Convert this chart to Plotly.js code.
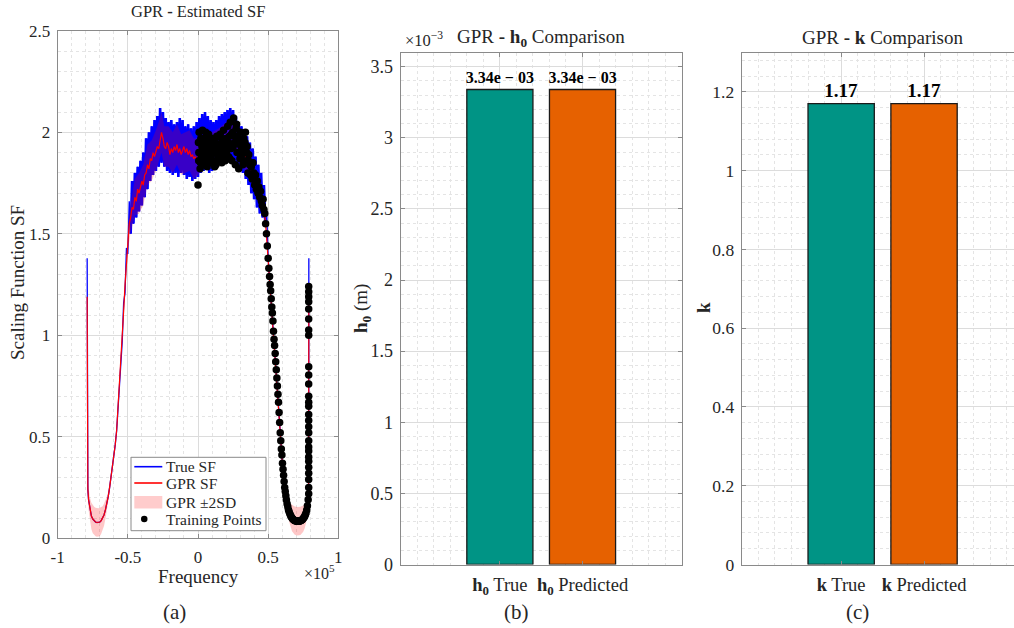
<!DOCTYPE html>
<html><head><meta charset="utf-8">
<script src="https://cdn.plot.ly/plotly-3.0.1.min.js"></script>
<style>html,body{margin:0;padding:0;overflow:hidden;background:#fff}#chart{width:1025px;height:628px}</style>
</head><body><div id="chart"></div>
<script>
// ---------- Panel (a) data : frequency in units of 1e3 Hz ----------
const trueFreq = [-79,-78.95,-78.9,-78.8,-78.5,-78,-77,-76,-75,-74,-73,-72,-71,-70,-69,-68,-67,-66,-65,-64,-63,-62,-61,-60,-59,-58,-57,-56,
-55,-54,-53,-52,-51,-50,-49,-48,-47,-46,-45,-44,-43,-42,-41,-40,-39,-38,-37,-36,-35,-34,-33,-32,-31,-30,-29,-28,-27,-26,-25,-24,-23,-22,-21,-20,-19,-18,-17,-16,-15,-14,-13,-12,-11,-10,-9,-8,-7,-6,-5,-4,-3,-2,-1,0,1,2,3,4,5,6,7,8,9,10,11,12,13,14,15,16,17,18,19,20,21,22,23,24,25,26,27,28,29,30,31,32,33,34,35,36,37,38,39,40,41,42,43,44,45,46,47,48,49,50,
51,52,53,54,55,56,57,58,59,60,61,62,63,64,65,66,67,68,69,70,71,72,73,74,75,76,77,77.5,78,78.5,78.8,78.9,78.95,79];
const trueSF = [1.38,0.80,0.45,0.32,0.24,0.19,0.14,0.11,0.095,0.085,0.08,0.078,0.078,0.08,0.087,0.098,0.115,0.14,0.17,0.205,0.25,0.30,0.35,0.40,0.46,0.53,0.64,0.77,
0.90,0.97,1.16,1.21,1.43,1.40,1.66,1.50,1.76,1.55,
1.80,1.58,1.83,1.61,1.86,1.64,1.90,1.68,1.97,1.72,
2.00,1.76,2.03,1.79,2.06,1.81,2.08,1.83,2.12,1.85,
2.10,1.83,2.07,1.81,2.05,1.80,2.06,1.79,2.04,1.80,
2.05,1.78,2.07,1.80,2.06,1.79,2.03,1.77,2.04,1.78,
2.02,1.76,2.03,1.77,2.05,1.78,2.07,1.80,2.09,1.81,
2.10,1.82,2.08,1.80,2.06,1.81,2.05,1.82,2.06,1.83,
2.08,1.84,2.09,1.86,2.10,1.87,2.11,1.88,2.12,1.87,
2.11,1.86,2.08,1.84,2.05,1.82,2.03,1.80,2.00,1.77,
1.98,1.74,1.95,1.70,1.92,1.67,1.88,1.63,1.84,1.60,
1.80,1.58,1.74,1.55,1.60,1.38,
1.28,1.19,1.10,1.00,0.90,0.79,0.69,0.58,0.48,0.38,0.31,0.24,0.19,0.155,0.13,0.112,0.1,0.092,0.087,0.085,0.084,0.084,0.086,0.09,0.097,0.108,0.125,0.14,0.16,0.19,0.22,0.5,0.9,1.38];

const gprFreq = [-79,-78.95,-78.9,-78.8,-78.5,-78,-77,-76,-75,-74,-73,-72,-71,-70,-69,-68,-67,-66,-65,-64,-63,-62,-61,-60,-59,-58,-57,-56,
-55,-54,-53,-52,-51,-50,-49,-48,-47,-46,-45,-44,-43,-42,-41,-40,-39,-38,-37,-36,-35,-34,-33,-32,-31,-30,-29,-28,-27,-26,-25,-24,-23,-22,-21,-20,-19,-18,-17,-16,-15,-14,-13,-12,-11,-10,-9,-8,-7,-6,-5,-4,-3,-2,-1,0,
2,4,6,8,10,12,14,16,18,20,22,24,26,28,30,32,34,36,38,40,42,44,46,48,50,
51,52,53,54,55,56,57,58,59,60,61,62,63,64,65,66,67,68,69,70,71,72,73,74,75,76,77,77.5,78,78.5,78.8,78.9,78.95,79];
const gprSF = [1.19,0.70,0.45,0.32,0.24,0.19,0.14,0.11,0.095,0.085,0.08,0.078,0.078,0.08,0.087,0.098,0.115,0.14,0.17,0.205,0.25,0.30,0.35,0.40,0.46,0.53,0.64,0.77,
0.88,1.00,1.12,1.25,1.37,1.46,1.55,1.58,1.63,1.62,
1.68,1.66,1.72,1.70,1.73,1.76,1.74,1.79,1.80,1.84,
1.82,1.87,1.86,1.90,1.88,1.91,1.93,1.92,1.97,2.00,
1.97,1.93,1.92,1.95,1.93,1.89,1.92,1.90,1.93,1.91,
1.94,1.90,1.92,1.89,1.91,1.93,1.90,1.92,1.89,1.91,
1.88,1.89,1.87,1.88,1.86,1.88,
1.90,1.92,1.93,1.91,1.92,1.94,1.93,1.95,1.96,1.97,1.98,1.99,1.98,1.96,1.94,1.91,1.88,1.85,1.81,1.77,1.73,1.70,1.66,1.57,1.38,
1.28,1.19,1.10,1.00,0.90,0.79,0.69,0.58,0.48,0.38,0.31,0.24,0.19,0.155,0.13,0.112,0.1,0.092,0.087,0.085,0.084,0.084,0.086,0.09,0.097,0.108,0.125,0.14,0.16,0.19,0.22,0.5,0.85,1.23];

const bandFreq = [-79,-78.9,-78.5,-78,-77,-76,-75,-74,-73,-72,-71,-70,-69,-68,-67,-66,-65,-64,-62,-60,-58,-56,-54,-52,-50,-48,-45,-42,-39,-36,-33,-30,-27,-26,-24,-21,-18,-15,-12,-9,-6,-3,0,5,10,15,20,25,30,35,40,44,48,50,52,55,58,61,63,65,67,69,71,73,75,76,77,78,78.5,78.8,78.95,79];
const bandLow = [1.17,0.42,0.20,0.14,0.08,0.045,0.025,0.015,0.01,0.008,0.008,0.01,0.022,0.038,0.06,0.095,0.135,0.18,0.285,0.388,0.518,0.755,0.98,1.22,1.41,1.51,1.59,1.60,1.64,1.74,1.76,1.81,1.87,1.90,1.83,1.83,1.80,1.84,1.79,1.80,1.81,1.77,1.79,1.84,1.84,1.86,1.89,1.905,1.86,1.79,1.72,1.66,1.54,1.36,1.175,0.888,0.568,0.295,0.16,0.08,0.035,0.017,0.014,0.016,0.032,0.048,0.075,0.125,0.165,0.20,0.83,1.21];
const bandHigh = [1.21,0.48,0.28,0.24,0.20,0.175,0.165,0.155,0.15,0.148,0.148,0.15,0.152,0.158,0.17,0.185,0.205,0.23,0.315,0.412,0.542,0.785,1.02,1.28,1.51,1.65,1.77,1.80,1.84,1.94,1.96,2.01,2.07,2.10,2.03,2.03,2.00,2.04,1.99,2.00,2.01,1.97,1.97,2.00,2.00,2.02,2.05,2.065,2.02,1.93,1.82,1.74,1.60,1.40,1.205,0.912,0.592,0.325,0.22,0.18,0.165,0.157,0.154,0.156,0.162,0.168,0.175,0.195,0.215,0.24,0.87,1.25];

const trainFreq = [0.0,0.3,0.5,0.8,1.2,1.5,2.0,2.4,2.8,3.2,3.6,4.0,4.5,5.0,5.5,6.0,6.5,7.0,7.5,8.0,8.6,9.2,9.8,10.4,11.0,11.6,12.2,12.8,13.4,14.0,14.6,15.2,15.8,16.4,17.0,17.6,18.2,18.8,19.4,20.0,20.6,21.2,21.8,22.4,23.0,23.6,24.2,24.8,25.4,26.0,26.6,27.2,27.8,28.4,29.0,29.6,30.2,30.8,31.4,32.0,32.6,33.2,33.8,34.4,35.0,35.6,36.2,36.8,37.4,
0.6,1.8,3.0,4.2,5.2,6.2,7.2,8.3,9.5,10.7,11.9,13.1,14.3,15.5,16.7,17.9,19.1,20.3,21.5,22.7,23.9,25.1,26.3,27.5,28.7,29.9,31.1,32.3,33.5,34.7,35.9,
38.0,38.6,39.2,39.8,40.4,41.0,41.6,42.2,42.8,43.4,44.0,44.6,45.2,45.8,46.4,47.0,47.6,48.2,48.8,49.4,50.0,50.5,51.0,51.4,51.8,52.2,52.6,53.0,53.4,53.8,54.2,54.6,55.0,55.4,55.8,56.2,56.6,57.0,57.4,57.8,58.2,58.6,59.0,59.4,59.8,60.2,60.6,61.0,61.4,61.8,62.2,62.6,63.0,63.5,64.0,64.5,65.0,65.5,66.0,66.5,67.0,67.5,68.0,68.5,69.0,69.5,70.0,
70.5,71.0,71.5,72.0,72.5,73.0,73.5,74.0,74.5,75.0,75.5,76.0,76.5,77.0,77.5,78.0,78.5,
78.9,78.9,78.9,78.9,78.9,78.9,78.9,78.9,78.9,78.9,78.9,78.9,78.9,78.9,78.9,78.9,78.9,78.9,78.9,78.9,78.9,78.9,78.9,78.9,78.9,78.9,78.9,78.9];
const trainSF = [1.74,1.95,1.86,2.0,1.9,1.82,1.97,1.88,1.93,2.01,1.84,1.92,1.97,1.87,2.0,1.9,1.83,1.95,1.99,1.88,1.93,1.85,1.97,1.9,1.86,1.96,1.92,1.84,1.98,1.89,1.94,1.87,1.99,1.91,1.85,1.96,2.01,1.9,1.86,1.97,1.93,2.03,1.88,1.98,2.05,1.92,1.86,2.0,2.07,1.95,1.84,2.02,1.9,1.98,1.82,1.94,2.0,1.88,1.95,1.84,1.97,1.9,2.0,1.86,1.93,1.8,1.89,1.84,1.79,
1.9,1.85,1.95,1.88,1.93,1.98,1.86,1.92,1.89,1.95,1.83,1.9,1.87,1.93,1.97,1.88,1.94,1.9,1.95,1.87,1.99,1.93,1.98,2.04,1.96,1.87,1.92,1.9,1.95,1.9,1.86,
1.83,1.77,1.85,1.8,1.74,1.79,1.72,1.76,1.7,1.73,1.68,1.71,1.66,1.64,1.67,1.62,1.6,1.55,1.5,1.44,1.38,1.33,1.29,1.25,1.22,1.18,1.14,1.11,1.07,1.02,0.98,0.95,0.91,0.87,0.83,0.79,0.75,0.71,0.67,0.62,0.57,0.52,0.48,0.44,0.41,0.37,0.34,0.31,0.28,0.25,0.23,0.21,0.19,0.17,0.155,0.14,0.13,0.12,0.112,0.105,0.1,0.095,0.092,0.089,0.087,0.086,0.085,
0.084,0.084,0.084,0.084,0.085,0.086,0.088,0.09,0.093,0.097,0.102,0.108,0.116,0.125,0.14,0.16,0.19,
0.22,0.25,0.29,0.32,0.35,0.38,0.40,0.43,0.45,0.48,0.52,0.55,0.58,0.61,0.65,0.67,0.70,0.76,0.805,0.845,1.0,1.026,1.08,1.13,1.165,1.19,1.215,1.24];

const freqTickVals = [-100,-50,0,50,100];
const freqTickText = ['-1','-0.5','0','0.5','1'];
const legendNames = ['True SF','GPR SF','GPR \u00b12SD','Training Points'];

// ---------- Panels (b), (c) data ----------
const h0Labels = ['<b>h<sub>0</sub></b> True','<b>h<sub>0</sub></b> Predicted'];
const h0Values = [3.34e-3, 3.34e-3];
const h0TickVals = [0,0.0005,0.001,0.0015,0.002,0.0025,0.003,0.0035];
const h0TickText = ['0','0.5','1','1.5','2','2.5','3','3.5'];
const kLabels = ['<b>k</b> True','<b>k</b> Predicted'];
const kValues = [1.17, 1.17];
const barPos = [1, 2];
const barColors = ['rgb(0,148,133)','rgb(230,97,0)'];

// ---------- layout helpers ----------
const W = 1025, H = 628;
const PX = v => v / W, PY = v => 1 - v / H;
const FONT = 'Liberation Serif, Times New Roman, serif';
const TXT = '#262626';
const AX = '#8a8a8a';
const BLUE = 'rgb(0,0,255)', RED = 'rgb(255,0,0)', PINK = 'rgba(255,0,0,0.22)';

function fmtExp(v){
  const s = v.toExponential(2).split('e');
  const e = parseInt(s[1],10);
  const ee = String(Math.abs(e)).padStart(2,'0');
  return '<b>' + s[0] + 'e ' + (e<0?'\u2212':'+') + ' ' + ee + '</b>';
}

// noisy part of the true SF drawn with a thicker stroke so that the dense oscillation reads as a band
const noisyStart = 35, noisyEnd = 132;

const traces = [
  {x: trueFreq, y: trueSF, type:'scatter', mode:'lines', name:legendNames[0],
   line:{color:BLUE, width:1.3}, showlegend:false, xaxis:'x', yaxis:'y'},
  {x: trueFreq.slice(noisyStart, noisyEnd), y: trueSF.slice(noisyStart, noisyEnd), type:'scatter', mode:'lines',
   line:{color:BLUE, width:2.6}, showlegend:false, xaxis:'x', yaxis:'y'},
  {x: bandFreq.concat(bandFreq.slice().reverse()), y: bandLow.concat(bandHigh.slice().reverse()),
   type:'scatter', mode:'lines', fill:'toself', fillcolor:PINK, line:{width:0, color:'rgba(255,0,0,0)'},
   name:legendNames[2], showlegend:false, xaxis:'x', yaxis:'y', hoverinfo:'skip'},
  {x: gprFreq, y: gprSF, type:'scatter', mode:'lines', name:legendNames[1],
   line:{color:RED, width:1.2}, showlegend:false, xaxis:'x', yaxis:'y'},
  {x: trainFreq, y: trainSF, type:'scatter', mode:'markers', name:legendNames[3],
   marker:{color:'#000', size:7.5}, showlegend:false, xaxis:'x', yaxis:'y'},
  {x: barPos, y: h0Values, type:'bar', width:[0.8,0.8], showlegend:false, xaxis:'x2', yaxis:'y2',
   marker:{color: barColors, line:{color:'#1a1a1a', width:1.3}},
   text: h0Values.map(fmtExp), textposition:'outside', constraintext:'none', cliponaxis:false,
   textfont:{family:FONT, size:16, color:'#000'}},
  {x: barPos, y: kValues, type:'bar', width:[0.8,0.8], showlegend:false, xaxis:'x3', yaxis:'y3',
   marker:{color: barColors, line:{color:'#1a1a1a', width:1.3}},
   text: kValues.map(v => '<b>' + v.toFixed(2) + '</b>'), textposition:'outside', constraintext:'none', cliponaxis:false,
   textfont:{family:FONT, size:19, color:'#000'}}
];

const gridMajor = '#dcdcdc', gridMinor = '#e4e4e4';
function axBase(fs){
  return {showline:true, linecolor:AX, linewidth:1, mirror:'ticks', ticks:'inside', ticklen:4, tickcolor:AX,
    showgrid:true, gridcolor:gridMajor, gridwidth:1, zeroline:false, fixedrange:true,
    tickfont:{family:FONT, size:fs, color:TXT}};
}
const minorGrid = d => ({dtick:d, showgrid:true, gridcolor:gridMinor, griddash:'dot', ticks:''});
const xa = Object.assign(axBase(17), {domain:[PX(57.7),PX(338.3)], range:[-100,100], tickmode:'array',
  tickvals:freqTickVals, ticktext:freqTickText, anchor:'y', ticklabelstandoff:3, minor:minorGrid(10)});
const ya = Object.assign(axBase(17), {domain:[PY(538.3),PY(30.8)], range:[0,2.5], dtick:0.5, anchor:'x',
  ticklabelstandoff:3, minor:minorGrid(0.1)});
const xb = Object.assign(axBase(18.5), {domain:[PX(400.7),PX(681.7)], range:[-0.2,3.2], tickmode:'array',
  tickvals:barPos, ticktext:h0Labels, anchor:'y2', ticklabelstandoff:3, minor:minorGrid(0.2)});
const yb = Object.assign(axBase(18), {domain:[PY(564.5),PY(52.5)], range:[0,0.0036], tickmode:'array',
  tickvals:h0TickVals, ticktext:h0TickText, anchor:'x2', ticklabelstandoff:3, minor:minorGrid(0.0001)});
const xc = Object.assign(axBase(18.5), {domain:[PX(741.7),PX(1023.5)], range:[-0.2,3.2], tickmode:'array',
  tickvals:barPos, ticktext:kLabels, anchor:'y3', ticklabelstandoff:3, minor:minorGrid(0.2)});
const yc = Object.assign(axBase(17.5), {domain:[PY(564.5),PY(52.5)], range:[0,1.3], dtick:0.2, anchor:'x3',
  ticklabelstandoff:3, minor:minorGrid(0.04)});

function ann(text, x, y, size, extra){
  return Object.assign({text:text, x:PX(x), y:PY(y), xref:'paper', yref:'paper', showarrow:false,
    xanchor:'center', yanchor:'middle', font:{family:FONT, size:size, color:TXT}}, extra||{});
}
const annotations = [
  ann('GPR <b>-</b> Estimated SF', 198, 12, 16.5),
  ann('GPR <b>-</b> <b>h<sub>0</sub></b> Comparison', 541, 38, 19),
  ann('\u00d710<sup>\u22123</sup>', 424, 39, 16.5),
  ann('GPR <b>-</b> <b>k</b> Comparison', 883, 38, 19),
  ann('Scaling Function SF', 17, 283, 19, {textangle:-90}),
  ann('<b>h<sub>0</sub></b> (m)', 362, 309, 19, {textangle:-90}),
  ann('<b>k</b>', 703, 308, 19, {textangle:-90}),
  ann('Frequency', 198, 576, 19),
  ann('\u00d710<sup>5</sup>', 319, 572, 16),
  ann('(a)', 174, 612, 21),
  ann('(b)', 516, 612, 21),
  ann('(c)', 857, 612, 21)
];

// legend drawn as a box with samples and real text
const LG = {x0:131, x1:266, y0:457.3, y1:530.7, sx0:134.3, sx1:162.3, tx:164, rows:[466.7, 483, 502, 519]};
const shapes = [
  {type:'rect', xref:'paper', yref:'paper', x0:PX(LG.x0), x1:PX(LG.x1), y0:PY(LG.y1), y1:PY(LG.y0),
   line:{color:AX, width:1}, fillcolor:'#fff', layer:'above'},
  {type:'line', xref:'paper', yref:'paper', x0:PX(LG.sx0), x1:PX(LG.sx1), y0:PY(LG.rows[0]), y1:PY(LG.rows[0]),
   line:{color:BLUE, width:1.6}},
  {type:'line', xref:'paper', yref:'paper', x0:PX(LG.sx0), x1:PX(LG.sx1), y0:PY(LG.rows[1]), y1:PY(LG.rows[1]),
   line:{color:RED, width:1.6}},
  {type:'rect', xref:'paper', yref:'paper', x0:PX(LG.sx0), x1:PX(LG.sx1), y0:PY(LG.rows[2]+6.5), y1:PY(LG.rows[2]-6),
   line:{width:0}, fillcolor:'rgba(255,0,0,0.2)'},
  {type:'circle', xref:'paper', yref:'paper', x0:PX(141), x1:PX(147.5), y0:PY(LG.rows[3]+3.25), y1:PY(LG.rows[3]-3.25),
   line:{width:0}, fillcolor:'#000'}
];
legendNames.forEach((n,i) => annotations.push(ann(n, LG.tx, LG.rows[i], 15.5, {xanchor:'left'})));

const layout = {
  width:W, height:H, margin:{l:0,r:0,t:0,b:0}, paper_bgcolor:'#fff', plot_bgcolor:'#fff',
  font:{family:FONT, color:TXT},
  xaxis:xa, yaxis:ya, xaxis2:xb, yaxis2:yb, xaxis3:xc, yaxis3:yc,
  showlegend:false, shapes:shapes, annotations:annotations
};

Plotly.newPlot('chart', traces, layout, {staticPlot:true, displayModeBar:false});
</script></body></html>
